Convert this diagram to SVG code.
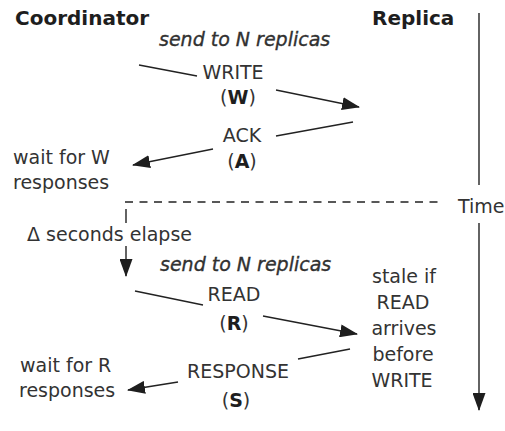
<svg xmlns="http://www.w3.org/2000/svg" width="505" height="431" viewBox="0 0 505 431">
  <style>
    text { font-family: "DejaVu Sans", "Liberation Sans", sans-serif; font-size: 19px; fill: #333; }
    .hdr { font-weight: bold; font-size: 20px; fill: #1e1e1e; }
    .em { font-style: italic; stroke: #2b2b2b; stroke-width: 0.35; }
    .b { font-weight: bold; fill: #1e1e1e; }
    .c { text-anchor: middle; }
    .ln { stroke: #222; stroke-width: 1.4; fill: none; }
    .dash { stroke: #222; stroke-width: 1.4; fill: none; stroke-dasharray: 8 6.5; }
  </style>
  <defs>
    <marker id="ah" markerUnits="userSpaceOnUse" markerWidth="18" markerHeight="13" refX="17" refY="6.5" orient="auto">
      <path d="M0,0 L18,6.5 L0,13 z" fill="#1e1e1e"/>
    </marker>
  </defs>
  <rect width="505" height="431" fill="#fff"/>

  <g id="coordinator"><text class="hdr" x="15" y="25">Coordinator</text></g>
  <g id="replica"><text class="hdr" x="372" y="25">Replica</text></g>

  <g id="send-write"><text class="em" x="159" y="46">send to N replicas</text></g>
  <g id="write"><text class="c" x="233" y="79">WRITE</text><text class="c" x="238" y="104">(<tspan class="b">W</tspan>)</text></g>
  <g id="ack"><text class="c" x="242" y="142">ACK</text><text class="c" x="242" y="168">(<tspan class="b">A</tspan>)</text></g>
  <g id="wait-w"><text x="13" y="164">wait for W</text><text x="13" y="189">responses</text></g>

  <g id="time"><text x="458" y="213">Time</text></g>
  <g id="delta"><text x="27" y="241">Δ seconds elapse</text></g>

  <g id="send-read"><text class="em" x="160" y="271">send to N replicas</text></g>
  <g id="read"><text class="c" x="234" y="301">READ</text><text class="c" x="234" y="330">(<tspan class="b">R</tspan>)</text></g>
  <g id="stale"><text class="c" x="404" y="283">stale if</text><text class="c" x="403" y="309">READ</text><text class="c" x="404" y="335">arrives</text><text class="c" x="403" y="361">before</text><text class="c" x="402" y="387">WRITE</text></g>
  <g id="response"><text class="c" x="238" y="378">RESPONSE</text><text class="c" x="236" y="407">(<tspan class="b">S</tspan>)</text></g>
  <g id="wait-r"><text x="20" y="372">wait for R</text><text x="19" y="397">responses</text></g>

  <g id="connectors">
    <line class="ln" x1="479" y1="13" x2="479" y2="185"/>
    <line class="ln" x1="479" y1="223" x2="479" y2="410" marker-end="url(#ah)"/>
    <line class="ln" x1="139" y1="65" x2="197" y2="76"/>
    <line class="ln" x1="276" y1="90" x2="359" y2="107" marker-end="url(#ah)"/>
    <line class="ln" x1="353" y1="122" x2="276" y2="136"/>
    <line class="ln" x1="213" y1="149" x2="133" y2="165" marker-end="url(#ah)"/>
    <line class="dash" x1="125" y1="202" x2="440" y2="202"/>
    <line class="ln" x1="126" y1="209" x2="126" y2="223"/>
    <line class="ln" x1="126" y1="246" x2="126" y2="276" marker-end="url(#ah)"/>
    <line class="ln" x1="135" y1="291" x2="203" y2="305"/>
    <line class="ln" x1="263" y1="316" x2="357" y2="334" marker-end="url(#ah)"/>
    <line class="ln" x1="350" y1="349" x2="298" y2="359"/>
    <line class="ln" x1="178" y1="382" x2="128" y2="390" marker-end="url(#ah)"/>
  </g>
</svg>
